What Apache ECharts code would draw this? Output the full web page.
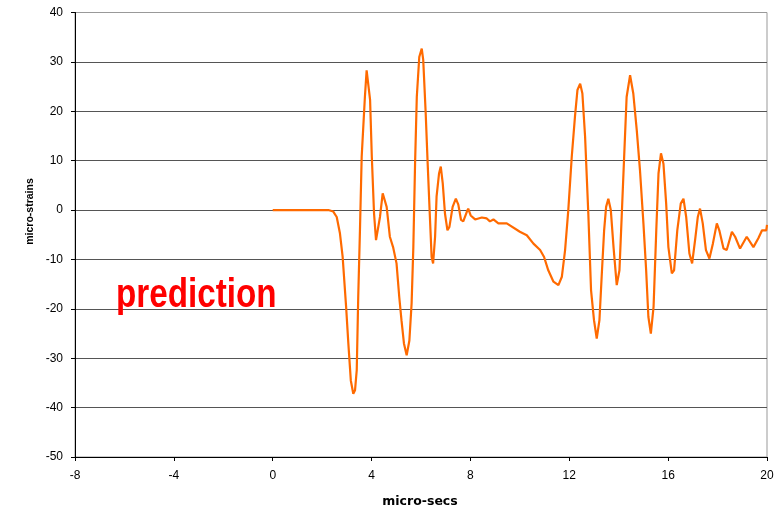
<!DOCTYPE html>
<html>
<head>
<meta charset="utf-8">
<script src="https://cdn.jsdelivr.net/npm/echarts@6/dist/echarts.min.js"></script>
<style>
html,body{margin:0;padding:0;background:#fff;}
#chart{width:774px;height:509px;}
</style>
</head>
<body>
<div id="chart"></div>
<script>
// micro-secs
const xs = [
  0, 2.25, 2.45, 2.59, 2.72, 2.83, 2.97, 3.06, 3.16, 3.26,
  3.33, 3.40, 3.46, 3.53, 3.60, 3.73, 3.80, 3.87, 3.94, 4.01,
  4.10, 4.18, 4.25, 4.34, 4.45, 4.51, 4.61, 4.74, 4.87, 5.01,
  5.12, 5.21, 5.31, 5.42, 5.53, 5.62, 5.69, 5.76, 5.83, 5.93,
  6.03, 6.09, 6.19, 6.27, 6.36, 6.43, 6.49, 6.57, 6.63, 6.73,
  6.80, 6.88, 6.97, 7.07, 7.15, 7.28, 7.41, 7.51, 7.62, 7.71,
  7.85, 7.91, 8.01, 8.19, 8.46, 8.66, 8.79, 8.93, 9.13, 9.47,
  10.0, 10.28, 10.55, 10.82, 10.98, 11.15, 11.36, 11.56, 11.70, 11.83,
  11.96, 12.10, 12.23, 12.33, 12.44, 12.53, 12.64, 12.77, 12.88, 13.0,
  13.11, 13.22, 13.31, 13.41, 13.49, 13.58, 13.68, 13.79, 13.92, 14.03,
  14.12, 14.22, 14.32, 14.46, 14.59, 14.73, 14.86, 15.0, 15.11, 15.2,
  15.30, 15.41, 15.52, 15.61, 15.71, 15.81, 15.92, 16.01, 16.15, 16.24,
  16.37, 16.51, 16.62, 16.73, 16.86, 16.97, 17.09, 17.20, 17.29, 17.40,
  17.53, 17.67, 17.81, 17.97, 18.07, 18.24, 18.37, 18.58, 18.71, 18.91,
  19.18, 19.45, 19.65, 19.80, 19.97, 20.0
];
// micro-strains
const ys = [
  0, 0, -0.3, -1.4, -4.7, -9.5, -19.6, -27, -34.5, -37.2,
  -36.5, -32.4, -17.6, -4.1, 10.8, 22.9, 28.3, 28.5, 22.3, 10.8,
  -0.7, -6.1, -6.5, -1.4, 3.4, 3.6, 0.65, -5.4, -7.5, -10.8,
  -17.6, -22.3, -27, -29.4, -26.4, -18.9, -7.5, 9.4, 22.9, 31.0,
  32.7, 30.4, 19.6, 9.4, -1.4, -9.5, -10.8, -5.4, 2.7, 7.4,
  8.8, 5.4, -0.7, -4.1, -3.4, 0.65, 2.3, 1.1, -2.0, -2.3,
  -0.4, 0.3, -1.1, -1.9, -1.5, -1.7, -2.3, -1.9, -2.7, -2.7,
  -4.4, -5.1, -6.8, -8.1, -9.5, -12.2, -14.5, -15.2, -13.5, -8.1,
  0, 10.8, 18.9, 24.3, 25.6, 23.6, 14.8, -0.7, -16.2, -22.3,
  -26.0, -22.3, -13.5, -4.1, 0.65, 2.3, 0, -7.5, -15.2, -12.2,
  -1.4, 10.8, 22.9, 27.3, 23.6, 16.2, 8.1, -2.7, -12.2, -21.6,
  -25.0, -19.6, -4.1, 7.4, 11.5, 9.4, 1.3, -7.5, -12.8, -12.2,
  -4.1, 1.3, 2.3, -1.4, -8.8, -10.8, -6.1, -1.4, 0.3, -2.7,
  -8.1, -9.8, -6.8, -2.7, -4.1, -7.8, -8.1, -4.4, -5.4, -7.8,
  -5.4, -7.5, -5.7, -4.1, -4.1, -3.0
];
const xTitle = 'micro-secs';
const yTitle = 'micro-strains';
const annotation = 'prediction';

const FONT = '"Liberation Sans", Arial, sans-serif';
const chart = echarts.init(document.getElementById('chart'), null, {renderer: 'canvas'});
const data = xs.map((x, i) => [x, ys[i]]);

chart.setOption({
  animation: false,
  backgroundColor: '#ffffff',
  grid: {left: 75, right: 7, top: 12.5, bottom: 52, show: true, borderColor: '#999', borderWidth: 1,
         backgroundColor: 'transparent', containLabel: false, outerBoundsMode: 'none'},
  xAxis: {
    type: 'value', min: -8, max: 20, interval: 4,
    axisLine: {show: true, onZero: false, lineStyle: {color: '#000', width: 1}},
    axisTick: {show: true, length: 4, lineStyle: {color: '#000'}},
    axisLabel: {fontFamily: FONT, fontSize: 12, color: '#000', margin: 13},
    splitLine: {show: false}
  },
  yAxis: {
    type: 'value', min: -50, max: 40, interval: 10,
    axisLine: {show: true, onZero: false, lineStyle: {color: '#000', width: 1}},
    axisTick: {show: true, length: 4, lineStyle: {color: '#000'}},
    axisLabel: {fontFamily: FONT, fontSize: 12, color: '#000', margin: 12},
    splitLine: {show: true, lineStyle: {color: ['#555','#555','#555','#555','#555','#555','#555','#555','#555','#999'], width: 1}}
  },
  graphic: [
    {type: 'text', x: 30, y: 211.5, rotation: Math.PI / 2,
     style: {text: yTitle, font: 'bold 10.5px ' + FONT, fill: '#000', textAlign: 'center', textVerticalAlign: 'middle'}, z: 10},
    {type: 'text', x: 420, y: 502,
     style: {text: xTitle, font: 'bold 12.5px "DejaVu Sans", ' + FONT, fill: '#000', textAlign: 'center', textVerticalAlign: 'middle'}, z: 10},
    {type: 'text', x: 116, y: 296, scaleX: 0.83,
     style: {text: annotation, font: 'bold 40px ' + FONT, fill: '#ff0000', textAlign: 'left', textVerticalAlign: 'middle'}, z: 10}
  ],
  series: [{
    type: 'line', data: data, showSymbol: false, smooth: false,
    lineStyle: {color: '#ff6a00', width: 2.2}, z: 5
  }]
});
</script>
</body>
</html>
